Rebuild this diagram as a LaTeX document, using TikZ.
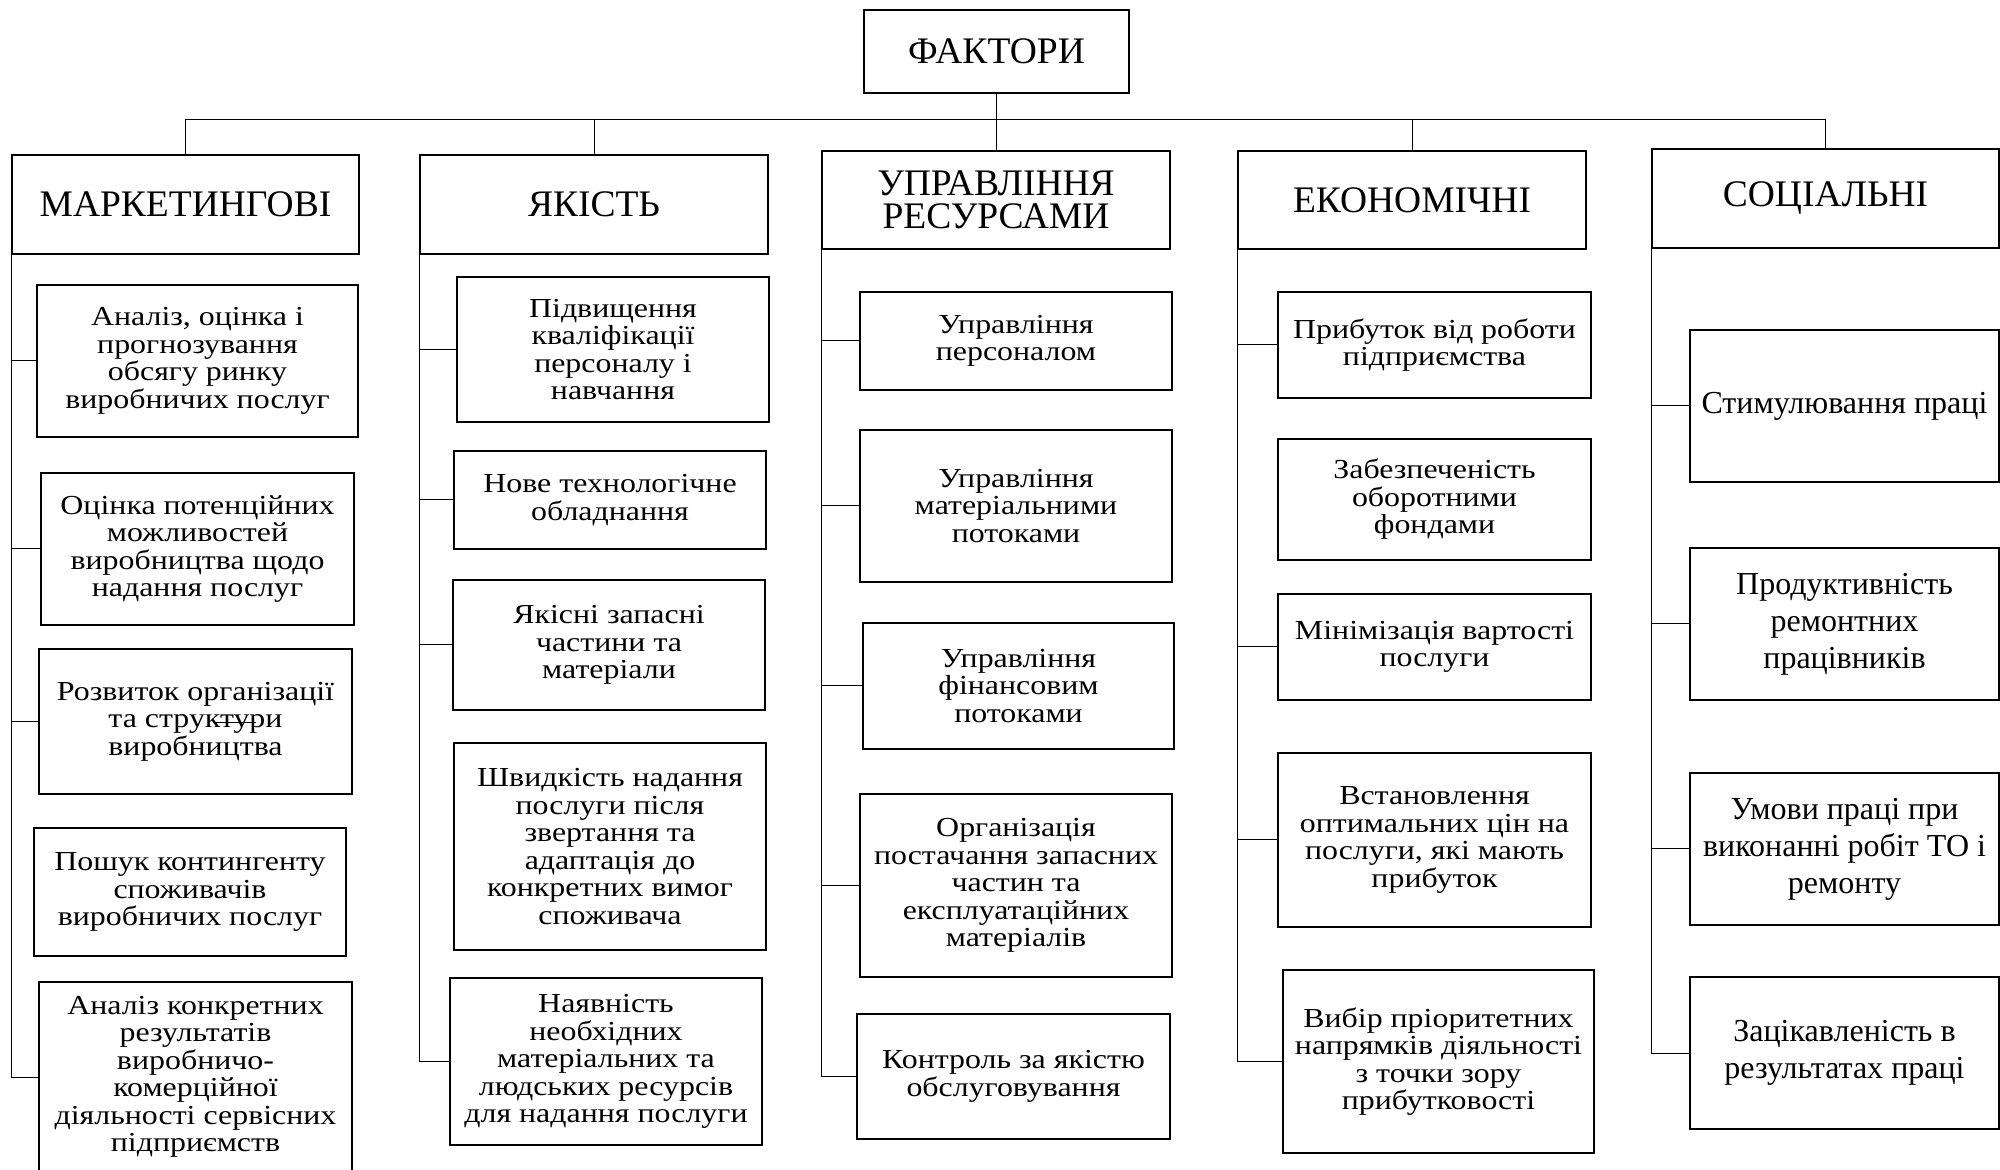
\documentclass[tikz,border=0pt]{standalone}
\usepackage{fontspec}
\setmainfont{Liberation Serif}
\newfontfamily\narrowfont[FakeStretch=1.16]{Liberation Serif}

\begin{document}
\begin{tikzpicture}[
        x=0.4pt,y=-0.4pt,
        box/.style={draw,line width=0.8pt,anchor=north west,inner sep=0pt,align=center},
        head/.style={box,font=\fontsize{15}{13}\selectfont},
        item/.style={box,font=\narrowfont\fontsize{11}{11}\selectfont},
        soc/.style={box,font=\fontsize{12.8}{14.8}\selectfont},
        sz/.style 2 args={minimum width=#1*0.4pt,minimum height=#2*0.4pt},
        link/.style={line width=0.4pt}]

    \useasboundingbox (0,0) rectangle (2000,1170);

    \node[head,sz={265}{83}] (top) at (863,9) {ФАКТОРИ};

    \node[head,sz={347}{99}] (mhead) at (11,154) {МАРКЕТИНГОВІ};
    \node[head,sz={348}{99}] (qhead) at (419,154) {ЯКІСТЬ};
    \node[head,sz={348}{98}] (rhead) at (821,150) {УПРАВЛІННЯ\\РЕСУРСАМИ};
    \node[head,sz={348}{98}] (ehead) at (1237,150) {ЕКОНОМІЧНІ};
    \node[head,sz={347}{99}] (shead) at (1651,148) {СОЦІАЛЬНІ};

    % marketing
    \node[item,sz={321}{152}] (m1) at (36,284) {Аналіз, оцінка і\\прогнозування\\обсягу ринку\\виробничих послуг};
    \node[item,sz={313}{152}] (m2) at (40,472) {Оцінка потенційних\\можливостей\\виробництва щодо\\надання послуг};
    \node[item,sz={313}{145}] (m3) at (38,648) {Розвиток організації\\та структури\\виробництва};
    \node[item,sz={312}{128}] (m4) at (33,827) {Пошук контингенту\\споживачів\\виробничих послуг};
    \node[item,sz={313}{190}] (m5) at (38,981) {Аналіз конкретних\\результатів\\виробничо-\\комерційної\\діяльності сервісних\\підприємств};

    % quality
    \node[item,sz={312}{145}] (q1) at (456,276) {Підвищення\\кваліфікації\\персоналу і\\навчання};
    \node[item,sz={312}{98}] (q2) at (453,450) {Нове технологічне\\обладнання};
    \node[item,sz={312}{130}] (q3) at (452,579) {Якісні запасні\\частини та\\матеріали};
    \node[item,sz={312}{207}] (q4) at (453,742) {Швидкість надання\\послуги після\\звертання та\\адаптація до\\конкретних вимог\\споживача};
    \node[item,sz={312}{167}] (q5) at (449,977) {Наявність\\необхідних\\матеріальних та\\людських ресурсів\\для надання послуги};

    % resources
    \node[item,sz={312}{98}] (r1) at (859,291) {Управління\\персоналом};
    \node[item,sz={312}{152}] (r2) at (859,429) {Управління\\матеріальними\\потоками};
    \node[item,sz={311}{126}] (r3) at (862,622) {Управління\\фінансовим\\потоками};
    \node[item,sz={312}{183}] (r4) at (859,793) {Організація\\постачання запасних\\частин та\\експлуатаційних\\матеріалів};
    \node[item,sz={313}{125}] (r5) at (856,1013) {Контроль за якістю\\обслуговування};

    % economics
    \node[item,sz={313}{106}] (e1) at (1277,291) {Прибуток від роботи\\підприємства};
    \node[item,sz={313}{121}] (e2) at (1277,438) {Забезпеченість\\оборотними\\фондами};
    \node[item,sz={313}{106}] (e3) at (1277,593) {Мінімізація вартості\\послуги};
    \node[item,sz={313}{174}] (e4) at (1277,752) {Встановлення\\оптимальних цін на\\послуги, які мають\\прибуток};
    \node[item,sz={311}{183}] (e5) at (1282,969) {Вибір пріоритетних\\напрямків діяльності\\з точки зору\\прибутковості};

    % social
    \node[soc,sz={309}{152}] (s1) at (1689,329) {Стимулювання праці};
    \node[soc,sz={309}{152}] (s2) at (1689,547) {Продуктивність\\ремонтних\\працівників};
    \node[soc,sz={309}{152}] (s3) at (1689,772) {Умови праці при\\виконанні робіт ТО і\\ремонту};
    \node[soc,sz={309}{152}] (s4) at (1689,976) {Зацікавленість в\\результатах праці};

    \coordinate (bus) at (0,120);
    \draw[link] (top.south) -- (top.south |- bus);
    \draw[link] (mhead.north) -- (mhead.north |- bus) -- (shead.north |- bus) -- (shead.north);
    \foreach \h in {qhead,rhead,ehead}
        \draw[link] (\h.north) -- (\h.north |- bus);

    \foreach \h/\l/\bs in {mhead/m5/{m1,m2,m3,m5},qhead/q5/{q1,q2,q3,q5},
            rhead/r5/{r1,r2,r3,r4,r5},ehead/e5/{e1,e3,e4,e5},shead/s4/{s1,s2,s3,s4}} {
        \draw[link] (\h.south west) -- (\h.south west |- \l.west);
        \foreach \b in \bs
            \draw[link] (\b.west) -- (\b.west -| \h.south west);
    }

    \draw[link] (213,723) -- (256,723);
\end{tikzpicture}
\end{document}
